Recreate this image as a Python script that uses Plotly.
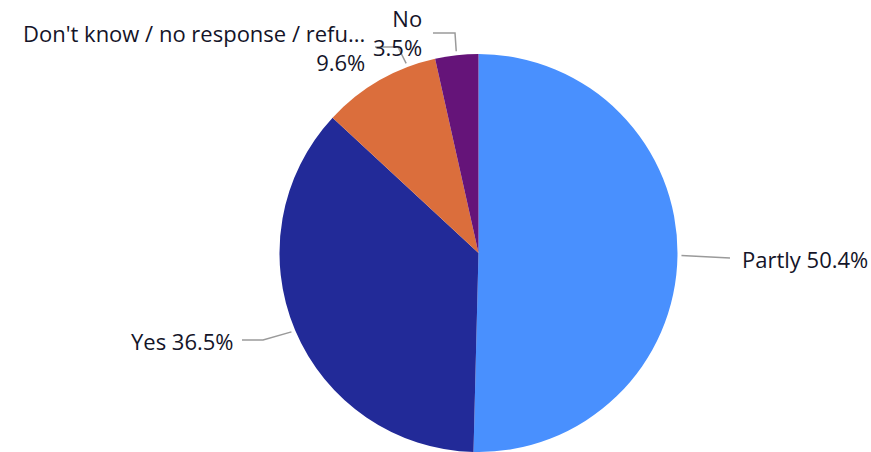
import math
import plotly.graph_objects as go

# Survey answers, clockwise from 12 o'clock
labels = ["Partly", "Yes", "Don't know / no response / refu...", "No"]
values = [50.4, 36.5, 9.6, 3.5]
colors = ["#4990FE", "#222A98", "#DB6E3C", "#651479"]

W, H = 871, 452
CX, CY, R = 478.5, 253.0, 199.0  # pie centre and radius in pixels

fig = go.Figure(
    go.Pie(
        labels=labels,
        values=values,
        sort=False,
        direction="clockwise",
        rotation=0,
        marker=dict(colors=colors, line=dict(width=0)),
        textinfo="none",
        hoverinfo="label+percent",
        showlegend=False,
        domain=dict(x=[(CX - R) / W, (CX + R) / W], y=[1 - (CY + R) / H, 1 - (CY - R) / H]),
    )
)


def px(x, y):
    return x / W, 1 - y / H


# Label layout: connector angle shift (deg), elbow/end points, text anchor
label_layout = [
    dict(shift=0, path=[(730, 258)], text_xy=(740, 259), xanchor="left", align="left",
         fmt="{lab} {val:.1f}%"),
    dict(shift=0, path=[(263, 340), (242, 340)], text_xy=(236, 341), xanchor="right", align="right",
         fmt="{lab} {val:.1f}%"),
    dict(shift=9, path=[(398, 47), (375, 47)], text_xy=(367, 48), xanchor="right", align="right",
         fmt="{lab}<br>{val:.1f}%"),
    dict(shift=0, path=[(455, 33), (433, 33)], text_xy=(424, 32), xanchor="right", align="right",
         fmt="{lab}<br>{val:.1f}%"),
]

total = sum(values)
cum = 0.0
shapes, annotations = [], []
for lab, val, lay in zip(labels, values, label_layout):
    mid = (cum + val / 2) / total * 360 + lay["shift"]
    cum += val
    a = math.radians(mid)
    sx, sy = CX + (R + 4) * math.sin(a), CY - (R + 4) * math.cos(a)
    pts = [(sx, sy)] + lay["path"]
    d = "M " + " L ".join("{:.4f},{:.4f}".format(*px(x, y)) for x, y in pts)
    shapes.append(dict(type="path", xref="paper", yref="paper", path=d,
                       line=dict(color="#9a9a9a", width=1.5)))
    tx, ty = px(*lay["text_xy"])
    annotations.append(dict(
        xref="paper", yref="paper", x=tx, y=ty, xanchor=lay["xanchor"], yanchor="middle",
        align=lay["align"], showarrow=False,
        text=lay["fmt"].format(lab=lab, val=val),
        font=dict(family="Open Sans", size=22, color="#141428"),
    ))

fig.update_layout(
    width=W, height=H,
    margin=dict(l=0, r=0, t=0, b=0),
    paper_bgcolor="white",
    plot_bgcolor="white",
    shapes=shapes,
    annotations=annotations,
)

fig.write_html("out.html")
